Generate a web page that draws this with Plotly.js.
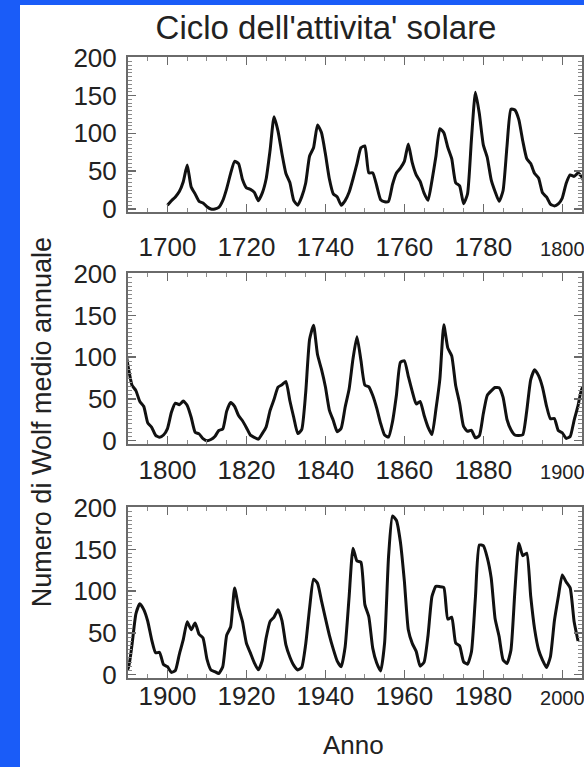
<!DOCTYPE html>
<html>
<head>
<meta charset="utf-8">
<script src="https://cdn.plot.ly/plotly-3.0.1.min.js"></script>
<style>
  html, body { margin: 0; padding: 0; background: #ffffff; width: 584px; height: 767px; overflow: hidden; }
  #bandLeft { position: absolute; left: 0; top: 0; width: 20px; height: 767px; background: #1a5cf8; }
  #bandTop { position: absolute; left: 0; top: 0; width: 584px; height: 5px; background: #1a5cf8; }
  #chart { position: absolute; left: 20px; top: 5px; width: 564px; height: 762px; background: #ffffff; }
</style>
</head>
<body>
<div id="bandLeft"></div>
<div id="bandTop"></div>
<div id="chart"></div>
<script>
// Annual mean Wolf (sunspot) number, one value per year starting at startYear
const startYear = 1700;
const wolfValues = [
  5, 11, 16, 23, 36, 58, 29, 20, 10, 8,
  3, 0, 0, 2, 11, 27, 47, 63, 60, 39,
  28, 26, 22, 11, 21, 40, 78, 122, 103, 73,
  47, 35, 11, 5, 16, 34, 70, 81, 111, 101,
  73, 40, 20, 16, 5, 11, 22, 40, 60, 80.9,
  83.4, 47.7, 47.8, 30.7, 12.2, 9.6, 10.2, 32.4, 47.6, 54,
  62.9, 85.9, 61.2, 45.1, 36.4, 20.9, 11.4, 37.8, 69.8, 106.1,
  100.8, 81.6, 66.5, 34.8, 30.6, 7, 19.8, 92.5, 154.4, 125.9,
  84.8, 68.1, 38.5, 22.8, 10.2, 24.1, 82.9, 132, 130.9, 118.1,
  89.9, 66.6, 60, 46.9, 41, 21.3, 16, 6.4, 4.1, 6.8,
  14.5, 34, 45, 43.1, 47.5, 42.2, 28.1, 10.1, 8.1, 2.5,
  0, 1.4, 5, 12.2, 13.9, 35.4, 45.8, 41.1, 30.1, 23.9,
  15.6, 6.6, 4, 1.8, 8.5, 16.6, 36.3, 49.6, 64.2, 67,
  70.9, 47.8, 27.5, 8.5, 13.2, 56.9, 121.5, 138.3, 103.2, 85.7,
  64.6, 36.7, 24.2, 10.7, 15, 40.1, 61.5, 98.5, 124.7, 96.3,
  66.6, 64.5, 54.1, 39, 20.6, 6.7, 4.3, 22.7, 54.8, 93.8,
  95.8, 77.2, 59.1, 44, 47, 30.5, 16.3, 7.3, 37.6, 74,
  139, 111.2, 101.6, 66.2, 44.7, 17, 11.3, 12.4, 3.4, 6,
  32.3, 54.3, 59.7, 63.7, 63.5, 52.2, 25.4, 13.1, 6.8, 6.3,
  7.1, 35.6, 73, 85.1, 78, 64, 41.8, 26.2, 26.7, 12.1,
  9.5, 2.7, 5, 24.4, 42, 63.5, 53.8, 62, 48.5, 43.9,
  18.6, 5.7, 3.6, 1.4, 9.6, 47.4, 57.1, 103.9, 80.6, 63.6,
  37.6, 26.1, 14.2, 5.8, 16.7, 44.3, 63.9, 69, 77.8, 64.9,
  35.7, 21.2, 11.1, 5.7, 8.7, 36.1, 79.7, 114.4, 109.6, 88.8,
  67.8, 47.5, 30.6, 16.3, 9.6, 33.2, 92.6, 151.6, 136.3, 134.7,
  83.9, 69.4, 31.5, 13.9, 4.4, 38, 141.7, 190.2, 184.8, 159,
  112.3, 53.9, 37.5, 27.9, 10.2, 15.1, 47, 93.8, 105.9, 105.5,
  104.5, 66.6, 68.9, 38, 34.5, 15.5, 12.6, 27.5, 92.5, 155.4,
  154.6, 140.4, 115.9, 66.6, 45.9, 17.9, 13.4, 29.4, 100.2, 157.6,
  142.6, 145.7, 94.3, 54.6, 29.9, 17.5, 8.6, 21.5, 64.3, 93.3,
  119.6, 111, 104, 63.7, 40.4
];
const years = wolfValues.map((v, i) => startYear + i);

// Panel x ranges and tick labels
const panelRanges = [[1690, 1805], [1790, 1905], [1890, 2005]];
const panelTicks = [
  [1700, 1720, 1740, 1760, 1780, 1800],
  [1800, 1820, 1840, 1860, 1880, 1900],
  [1900, 1920, 1940, 1960, 1980, 2000]
];
const yTicks = [0, 50, 100, 150, 200];
const yTickText = ['0', '50', '100', '150', '200'];

const chartTitle = "Ciclo dell'attivita' solare";
const yTitle = 'Numero di Wolf medio annuale';
const xTitle = 'Anno';

const axisColor = '#6a6a6a';
const textColor = '#222222';
const fontFam = 'Liberation Sans, Arial, sans-serif';

const domains = [[0.7504, 1.0], [0.3768, 0.6522], [0.0, 0.2754]];
const xStandoffs = [11, 2, -6];

const traces = [];
const layout = {
  width: 564, height: 762,
  margin: {l: 108, r: 2, t: 52, b: 89},
  paper_bgcolor: '#ffffff',
  plot_bgcolor: '#ffffff',
  showlegend: false,
  font: {family: fontFam, color: textColor, size: 26},
  title: {
    text: chartTitle,
    font: {family: fontFam, size: 33, color: textColor},
    xref: 'container', x: 0.5426, xanchor: 'center',
    yref: 'container', y: 0.971, yanchor: 'middle'
  },
  annotations: [
    {text: yTitle, xref: 'paper', yref: 'paper', x: -0.1894, y: 0.4120,
     textangle: -90, xanchor: 'center', yanchor: 'middle', showarrow: false,
     font: {family: fontFam, size: 27, color: textColor}},
    {text: xTitle, xref: 'paper', yref: 'paper', x: 0.4956, y: -0.1079,
     xanchor: 'center', yanchor: 'middle', showarrow: false,
     font: {family: fontFam, size: 26, color: textColor}}
  ]
};

for (let p = 0; p < 3; p++) {
  const sfx = p === 0 ? '' : String(p + 1);
  traces.push({
    type: 'scatter', mode: 'lines',
    x: years, y: wolfValues,
    xaxis: 'x' + sfx, yaxis: 'y' + sfx,
    line: {color: '#111111', width: 3, shape: 'spline', smoothing: 0.5},
    hoverinfo: 'skip'
  });
  const ticks = panelTicks[p];
  const tickText = ticks.map((t, i) => i === ticks.length - 1
      ? '<span style="font-size:20px">' + t + '</span>' : String(t));
  layout['xaxis' + sfx] = {
    domain: [0, 1], anchor: 'y' + sfx,
    range: panelRanges[p],
    tickvals: ticks, ticktext: tickText,
    ticks: 'inside', ticklen: 8, tickwidth: 1.5, tickcolor: axisColor,
    minor: {dtick: 5, tick0: 1700, ticks: 'inside', ticklen: 4, tickwidth: 1, tickcolor: '#8a8a8a', showgrid: false},
    showline: true, linecolor: axisColor, linewidth: 2, mirror: 'ticks',
    showgrid: false, zeroline: false,
    ticklabeloverflow: 'allow',
    ticklabelstandoff: xStandoffs[p],
    tickfont: {family: fontFam, size: 26, color: textColor}
  };
  layout['yaxis' + sfx] = {
    domain: domains[p], anchor: 'x' + sfx,
    range: [-4, 201],
    tickvals: yTicks, ticktext: yTickText,
    ticks: 'inside', ticklen: 8, tickwidth: 1.5, tickcolor: axisColor,
    minor: {dtick: 5, tick0: 0, ticks: 'inside', ticklen: 4, tickwidth: 1, tickcolor: '#8a8a8a', showgrid: false},
    showline: true, linecolor: axisColor, linewidth: 2, mirror: 'ticks',
    showgrid: false, zeroline: false,
    ticklabeloverflow: 'allow',
    ticklabelstandoff: 4,
    tickfont: {family: fontFam, size: 26, color: textColor}
  };
}

Plotly.newPlot('chart', traces, layout, {staticPlot: true, displayModeBar: false});
</script>
</body>
</html>
